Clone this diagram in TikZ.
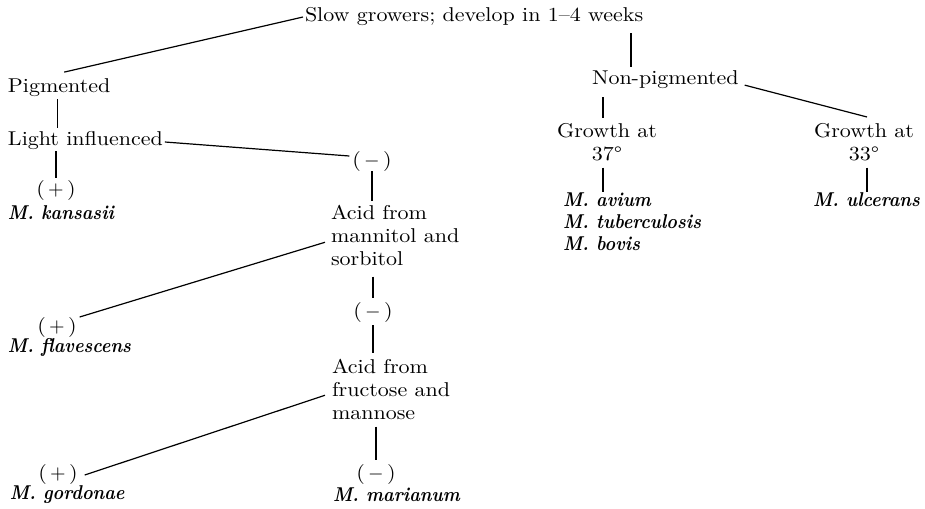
\documentclass[tikz,border=0pt]{standalone}
\usepackage{fontspec}
\newfontface\rmface{lmroman10-regular}[Extension=.otf,FakeStretch=1.1]
\newfontface\spface{lmroman10-bolditalic}[Extension=.otf,FakeStretch=0.9]
\usetikzlibrary{calc}
\begin{document}
\begin{tikzpicture}[x=0.5pt,y=-0.5pt,
  every node/.style={inner sep=0pt,outer sep=0pt,font=\fontsize{10}{11.5}\selectfont\rmface},
  lbl/.style={anchor=base west},
  blk/.style={anchor=north west,align=left},
  ctr/.style={anchor=north,align=center},
  sgn/.style={anchor=center},
  sp/.style={font=\fontsize{10}{11}\selectfont\spface},
  conn/.style={line width=0.6pt}]
\useasboundingbox (0,0) rectangle (925,508);
% nodes
\node[lbl] (slow) at (305,22) {Slow growers; develop in 1–4 weeks};
\node[lbl] (pig) at (8,93) {Pigmented};
\node[lbl] (light) at (8,145) {Light influenced};
\node[sgn] (minus1) at (372,161) {(\,$-$\,)};
\node[sgn] (plus1) at (56,190) {(\,$+$\,)};
\node[lbl,sp] (kans) at (8,219) {M. kansasii};
\node[blk] (acid1) at (331,205) {Acid from\\mannitol and\\sorbitol};
\node[sgn] (plus2) at (57,327) {(\,$+$\,)};
\node[lbl,sp] (flav) at (8,352) {M. flavescens};
\node[sgn] (minus2) at (373,312) {(\,$-$\,)};
\node[blk] (acid2) at (332,359) {Acid from\\fructose and\\mannose};
\node[sgn] (plus3) at (58,474) {(\,$+$\,)};
\node[lbl,sp] (gord) at (10,499) {M. gordonae};
\node[sgn] (minus3) at (376,474) {(\,$-$\,)};
\node[lbl,sp] (mari) at (333,501) {M. marianum};
\node[lbl] (np) at (592,84) {Non-pigmented};
\node[ctr] (g37) at (607,123) {Growth at\\37°};
\node[ctr] (g33) at (864,123) {Growth at\\33°};
\node[blk,sp] (avium) at (563,193) {M. avium\\M. tuberculosis\\M. bovis};
\node[blk,sp] (ulc) at (813,193) {M. ulcerans};
% connectors
\draw[conn] ($(slow.west)+(-2,0)$) -- ($(pig.north)+(5,-7)$);
\draw[conn] ($(pig.south)+(-2,2)$) -- ($(light.north -| pig.south)+(-2,-3)$);
\draw[conn] ($(light.east)+(2,2)$) -- ($(minus1.west)+(-3,-5)$);
\draw[conn] ($(light.south -| plus1.north)+(0,2)$) -- ($(plus1.north)+(0,-2)$);
\draw[conn] ($(minus1.south)+(0,0)$) -- ($(minus1.south |- acid1.north)+(0,-4)$);
\draw[conn] ($(acid1.west)+(-6,7)$) -- ($(plus2.east)+(3,-10)$);
\draw[conn] ($(minus2.north |- acid1.south)+(0,11)$) -- ($(minus2.north)+(0,-4)$);
\draw[conn] ($(minus2.south)+(0,3)$) -- ($(minus2.south |- acid2.north)+(0,-6)$);
\draw[conn] ($(acid2.west)+(-7,6)$) -- ($(plus3.east)+(7,1)$);
\draw[conn] ($(minus3.north |- acid2.south)+(0,7)$) -- ($(minus3.north)+(0,-4)$);
\draw[conn] ($(slow.south -| np.north west)+(39,7)$) -- ($(np.north west)+(39,-3)$);
\draw[conn] ($(np.east)+(6,6)$) -- ($(g33.north)+(3,-6)$);
\draw[conn] ($(np.south -| g37.north)+(-4,9)$) -- ($(g37.north)+(-4,-5)$);
\draw[conn] ($(g37.south)+(-4,7)$) -- ($(g37.south |- avium.north)+(-4,-1)$);
\draw[conn] ($(g33.south)+(3,7)$) -- ($(g33.south |- ulc.north)+(3,-1)$);
\end{tikzpicture}
\end{document}
